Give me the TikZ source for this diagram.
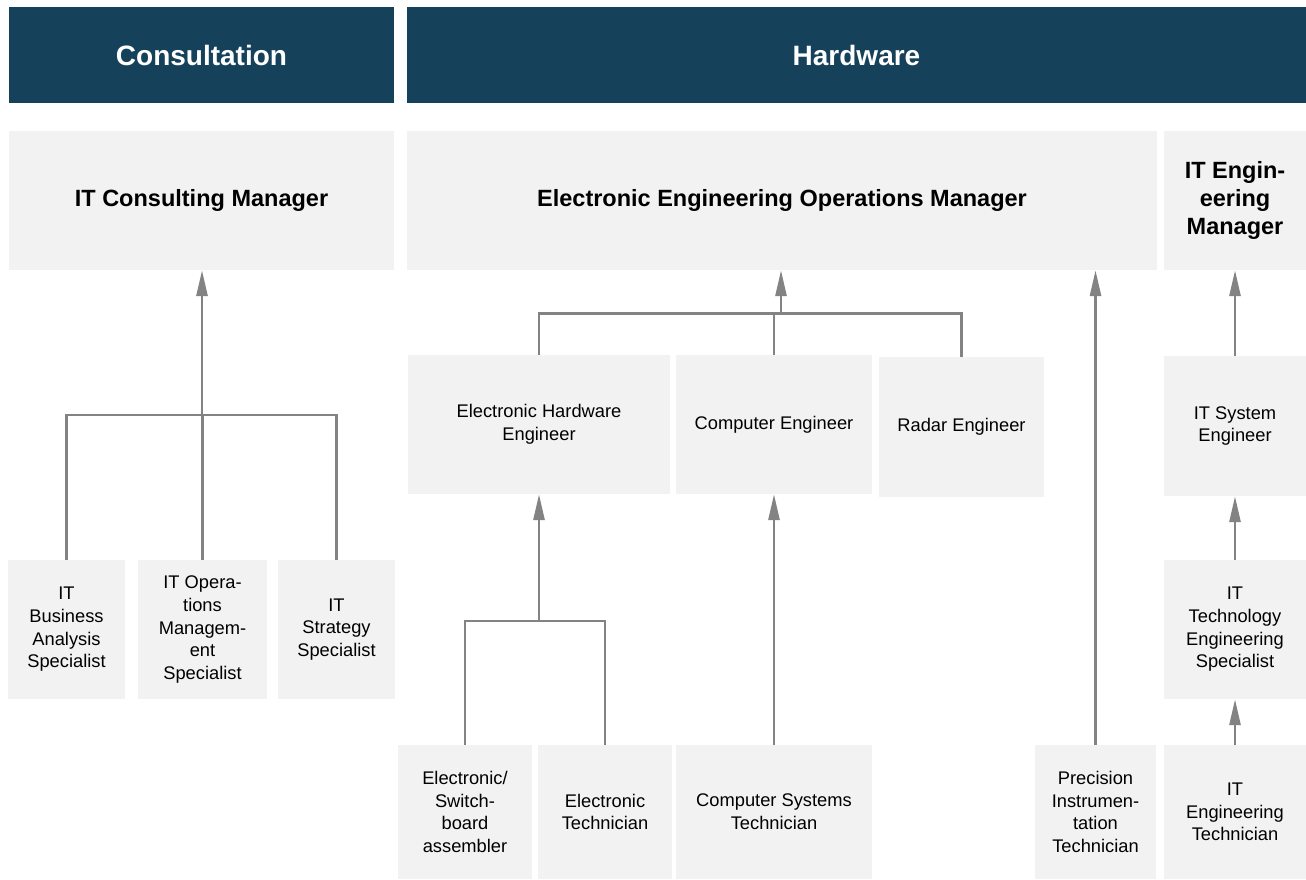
\documentclass[tikz,border=0pt]{standalone}
\usepackage{fontspec}
\setmainfont{Liberation Sans}
\usetikzlibrary{arrows.meta}
\definecolor{headblue}{HTML}{16415A}
\definecolor{boxgray}{HTML}{F2F2F2}
\definecolor{linegray}{HTML}{838383}
\begin{document}
\begin{tikzpicture}[x=1pt,y=-1pt,
  header/.style={fill=headblue, text=white, inner sep=0pt, align=center,
    font=\fontsize{28}{32}\selectfont\bfseries},
  mgr/.style={fill=boxgray, inner sep=0pt, align=center,
    font=\fontsize{23.5}{28}\selectfont\bfseries},
  role/.style={fill=boxgray, inner sep=0pt, align=center,
    font=\fontsize{18.3}{22.7}\selectfont},
  conn/.style={draw=linegray, line width=2.8pt},
  arr/.style={conn, -{Triangle[length=26pt,width=11pt]}}
]
\useasboundingbox (0,0) rectangle (1306,879);
% headers
\node[header, minimum width=385pt, minimum height=96pt] (hcons) at (201.5,55) {Consultation};
\node[header, minimum width=899pt, minimum height=96pt] (hhw) at (856.5,55) {Hardware};
% managers
\node[mgr, minimum width=385pt, minimum height=139pt] (icm) at (201.5,200.5) {IT Consulting Manager};
\node[mgr, minimum width=750pt, minimum height=139pt] (eeom) at (782,200.5) {Electronic Engineering Operations Manager};
\node[mgr, minimum width=142pt, minimum height=139pt] (item) at (1235,200.5) {IT Engin-\\eering\\Manager};
% engineers
\node[role, minimum width=262pt, minimum height=139pt] (ehe) at (539,424.5) {Electronic Hardware\\Engineer};
\node[role, minimum width=196pt, minimum height=139pt] (ce) at (774,424.5) {Computer Engineer};
\node[role, minimum width=165pt, minimum height=140pt] (re) at (961.5,427) {Radar Engineer};
\node[role, minimum width=142pt, minimum height=140pt] (ise) at (1235,426) {IT System\\Engineer};
% specialists
\node[role, minimum width=117pt, minimum height=139pt] (iba) at (66.5,629.5) {IT\\Business\\Analysis\\Specialist};
\node[role, minimum width=129pt, minimum height=139pt] (iom) at (202.5,629.5) {IT Opera-\\tions\\Managem-\\ent\\Specialist};
\node[role, minimum width=117pt, minimum height=139pt] (ist) at (336.5,629.5) {IT\\Strategy\\Specialist};
\node[role, minimum width=142pt, minimum height=139pt] (ites) at (1235,629.5) {IT\\Technology\\Engineering\\Specialist};
% technicians
\node[role, minimum width=134pt, minimum height=134pt] (esa) at (465,812) {Electronic/\\Switch-\\board\\assembler};
\node[role, minimum width=134pt, minimum height=134pt] (et) at (605,812) {Electronic\\Technician};
\node[role, minimum width=196pt, minimum height=134pt] (cst) at (774,812) {Computer Systems\\Technician};
\node[role, minimum width=121pt, minimum height=134pt] (pit) at (1095.5,812) {Precision\\Instrumen-\\tation\\Technician};
\node[role, minimum width=142pt, minimum height=134pt] (iet) at (1235,812) {IT\\Engineering\\Technician};
% junctions
\coordinate (cj) at (202,415);
\coordinate (hj) at (781,313.5);
\coordinate (ej) at (539,621);
% consultation connectors
\draw[conn] (iba.north) |- (cj) -| (ist.north);
\draw[conn] (iom.north) -- (iom.north |- cj);
\draw[arr] (cj) -- (cj |- icm.south);
% hardware connectors
\draw[conn] (ehe.north) |- (hj) -| (re.north);
\draw[conn] (ce.north) -- (ce.north |- hj);
\draw[arr] (hj) -- (hj |- eeom.south);
\draw[conn] (esa.north) |- (ej) -| (et.north);
\draw[arr] (ej) -- (ehe.south);
\draw[arr] (cst.north) -- (ce.south);
\draw[arr] (pit.north) -- (pit.north |- eeom.south);
% IT engineering chain
\draw[arr] (ise.north) -- (item.south);
\draw[arr] (ites.north) -- (ise.south);
\draw[arr] (iet.north) -- (ites.south);
\end{tikzpicture}
\end{document}
